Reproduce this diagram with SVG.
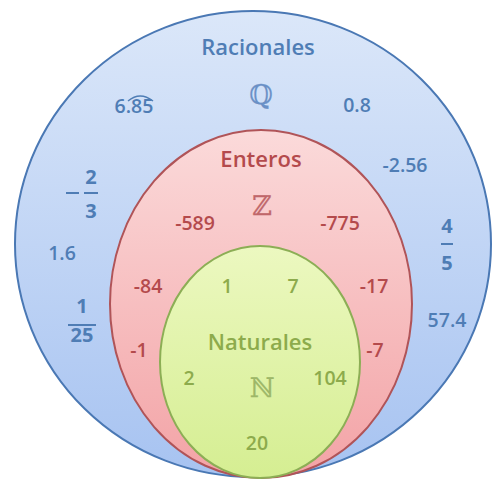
<svg xmlns="http://www.w3.org/2000/svg" width="494" height="481" viewBox="0 0 494 481">
<defs>
<linearGradient id="gBlue" x1="0" y1="0" x2="0" y2="1"><stop offset="0" stop-color="#dbe7f9"/><stop offset="1" stop-color="#a7c3f1"/></linearGradient>
<linearGradient id="gRed" x1="0" y1="0" x2="0" y2="1"><stop offset="0" stop-color="#fbdada"/><stop offset="1" stop-color="#f3a3a6"/></linearGradient>
<linearGradient id="gGreen" x1="0" y1="0" x2="0" y2="1"><stop offset="0" stop-color="#ecf8c0"/><stop offset="1" stop-color="#d5ee92"/></linearGradient>
</defs>
<style>
text{font-family:"Open Sans","Liberation Sans",Arial,sans-serif;text-anchor:middle;font-weight:600}
.b{fill:#4f7db5}.r{fill:#b44a4c}.g{fill:#8dab4c}
.t{font-size:22px}.n{font-size:19.5px}.f{font-size:20px;font-weight:bold}
.ds{font-family:"DejaVu Serif","DejaVu Sans",serif;font-size:27px;font-weight:normal;stroke-width:0.25}
</style>
<rect width="494" height="481" fill="#ffffff"/>
<g id="racionales">
<ellipse cx="253" cy="244" rx="238" ry="233" fill="url(#gBlue)" stroke="#4a78b4" stroke-width="2"/>
<text class="b t" x="258" y="55">Racionales</text>
<text class="ds" x="261" y="104" fill="#6a90c6" stroke="#6a90c6">ℚ</text>
<text class="b n" x="134" y="113">6.85</text>
<path d="M128 101 Q140 91 153 101" fill="none" stroke="#4f7db5" stroke-width="1.5"/>
<text class="b n" x="357" y="112">0.8</text>
<text class="b n" x="405" y="172">-2.56</text>
<line x1="66" y1="193" x2="79" y2="193" stroke="#4f7db5" stroke-width="2"/>
<text class="b f" x="91" y="184">2</text>
<line x1="84" y1="193" x2="98" y2="193" stroke="#4f7db5" stroke-width="2"/>
<text class="b f" x="91" y="218">3</text>
<text class="b n" x="62" y="260">1.6</text>
<text class="b f" x="447" y="233">4</text>
<line x1="441" y1="244" x2="453" y2="244" stroke="#4f7db5" stroke-width="2"/>
<text class="b f" x="447" y="270">5</text>
<text class="b f" x="82" y="313">1</text>
<line x1="68" y1="325" x2="96" y2="325" stroke="#4f7db5" stroke-width="2"/>
<text class="b f" x="82" y="342">25</text>
<text class="b n" x="447" y="327">57.4</text>
</g>
<g id="enteros">
<ellipse cx="261" cy="304" rx="151" ry="174" fill="url(#gRed)" stroke="#b05458" stroke-width="2"/>
<text class="r t" x="261" y="167">Enteros</text>
<text class="ds" x="262" y="215" fill="#c0676a" stroke="#c0676a">ℤ</text>
<text class="r n" x="195" y="230">-589</text>
<text class="r n" x="340" y="230">-775</text>
<text class="r n" x="148" y="293">-84</text>
<text class="r n" x="374" y="293">-17</text>
<text class="r n" x="139" y="357">-1</text>
<text class="r n" x="375" y="357">-7</text>
</g>
<g id="naturales">
<ellipse cx="260" cy="362" rx="100" ry="116" fill="url(#gGreen)" stroke="#8cae55" stroke-width="2"/>
<text class="g n" x="227" y="293">1</text>
<text class="g n" x="293" y="293">7</text>
<text class="g t" x="260" y="350">Naturales</text>
<text class="g n" x="189" y="385">2</text>
<text class="ds" x="262" y="397" fill="#9db768" stroke="#9db768">ℕ</text>
<text class="g n" x="330" y="385">104</text>
<text class="g n" x="257" y="450">20</text>
</g>
<g id="connectors"/>
</svg>
